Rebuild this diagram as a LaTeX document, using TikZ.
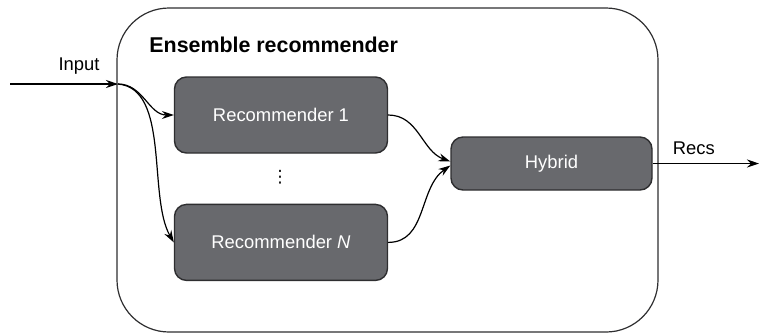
\documentclass[tikz,border=0pt]{standalone}
\usepackage{fontspec}
\setmainfont{Liberation Sans}
\newfontfamily\symfont{DejaVu Sans}
\usepackage{tikz}
\usetikzlibrary{arrows.meta, positioning}
\definecolor{boxgray}{HTML}{68696D}
\definecolor{edgegray}{HTML}{2E2E30}

\begin{document}
\begin{tikzpicture}[
  x=0.5pt, y=-0.5pt,
  font=\fontsize{9.2}{11}\selectfont,
  >={Stealth[length=6pt, width=4pt, inset=2pt]},
  node distance=25pt and 30pt,
  recbox/.style={
    rectangle, draw=edgegray, line width=0.7pt, fill=boxgray,
    rounded corners=6pt, text=white,
    minimum width=106.5pt, minimum height=38pt
  },
  hybridbox/.style={
    recbox, minimum width=100.5pt, minimum height=26.5pt
  },
  outerbox/.style={
    rectangle, draw=edgegray, line width=0.6pt, rounded corners=26pt,
    minimum width=270.5pt, minimum height=162pt
  },
  arrow/.style={->, line width=0.6pt, color=black},
  label/.style={font=\fontsize{9.2}{11}\selectfont}
]
\useasboundingbox (0,0) rectangle (760,334);

% Outer ensemble box
\node[outerbox] (ensemble) at (387.5,170) {};
\node[anchor=west, inner sep=0pt, font=\fontsize{10.7}{13}\selectfont\bfseries] (title) at (149,45) {Ensemble recommender};

% Recommenders and hybrid
\node[recbox] (rec1) at (281,115) {Recommender 1};
\node[recbox, below=of rec1] (recN) {Recommender \textit{N}};
\node[inner sep=0pt, font=\symfont\fontsize{8.5}{9}\selectfont] (dots) at (280,177) {⋮};
\node[hybridbox] (hybrid) at (551.5,163.5) {Hybrid};

% Input and output
\coordinate (in) at (10,84);
\coordinate (split) at (118,84);
\coordinate (out) at (759,163.5);
\draw[arrow] (in) -- node[label, above=1pt, xshift=7.5pt] (inputlabel) {Input} (split);
\draw[arrow] (hybrid.east) -- node[label, above=1pt, xshift=-6pt] (recslabel) {Recs} (out);

% Arrows with curves
\draw[arrow] (split) to[out=0, in=180] (rec1.west);
\draw[arrow] (split) to[out=-5, in=120, looseness=0.8] (recN.west);
\draw[arrow] (rec1.east) to[out=0, in=160] ([yshift=1pt]hybrid.west);
\draw[arrow] (recN.east) to[out=0, in=215] ([yshift=-1pt]hybrid.west);

\end{tikzpicture}
\end{document}
